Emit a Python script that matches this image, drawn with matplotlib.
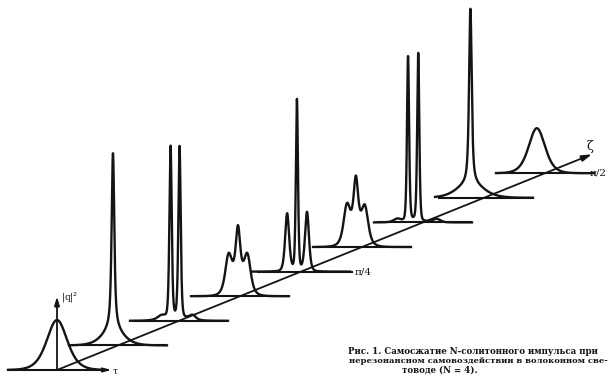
import numpy as np
import matplotlib
matplotlib.use("Agg")
import matplotlib.pyplot as plt

# ---- data ----
# profile index k: zeta = k * pi/16  (k = 0 .. 8)
zeta_index = [0, 1, 2, 3, 4, 5, 6, 7, 8]
zeta_tick_labels = {4: "π/4", 8: "π/2"}
# each profile: list of sech^2 components (tau centre, amplitude |q|^2, width)
prof0 = [(0.0, 16.0, 1.0)]
prof1 = [(-0.37, 49.5, 0.12), (-0.37, 6.0, 0.35), (-0.37, 6.0, 1.0)]
prof2 = [(-0.62, 54.0, 0.11), (0.04, 54.0, 0.11), (-0.3, 2.2, 1.0),
         (-1.3, 1.0, 0.35), (1.0, 1.4, 0.3)]
prof3 = [(-0.15, 14.0, 0.2), (-0.85, 10.0, 0.3), (0.55, 10.0, 0.3),
         (-0.15, 8.0, 0.75)]
prof4 = [(-0.3, 54.0, 0.10), (-1.02, 18.0, 0.19), (0.44, 18.5, 0.19),
         (-0.3, 1.2, 0.9)]
prof5 = [(-0.45, 14.0, 0.2), (-1.12, 10.0, 0.3), (0.22, 9.5, 0.3),
         (-0.45, 8.0, 0.75)]
prof6 = [(-1.1, 52.0, 0.10), (-0.35, 53.0, 0.10), (-0.7, 1.5, 0.8),
         (-1.9, 1.0, 0.35), (1.0, 1.1, 0.35)]
prof7 = [(-1.0, 49.5, 0.12), (-1.0, 5.5, 0.32), (-1.0, 5.5, 1.2)]
prof8 = [(-0.6, 14.4, 0.8)]
profiles = [prof0, prof1, prof2, prof3, prof4, prof5, prof6, prof7, prof8]

caption = ["Рис. 1. Самосжатие N-солитонного импульса при",
           "нерезонансном самовоздействии в волоконном све-",
           "товоде (N = 4)."]

# ---- oblique projection (pixel frame of the figure) ----
W, H = 609, 376
X0, Y0 = 57.0, 370.0      # origin: tau=0 of first profile
DXk, DYk = 61.0, 24.6     # shift per zeta step
SX, SY = 13.6, 3.125      # px per tau unit, px per |q|^2 unit


def proj(k, tau, h):
    return X0 + DXk * k + SX * np.asarray(tau), Y0 - DYk * k - SY * np.asarray(h)


fig = plt.figure(figsize=(W / 100, H / 100), dpi=100)
ax = fig.add_axes([0, 0, 1, 1])
ax.set_xlim(0, W)
ax.set_ylim(H, 0)
ax.axis("off")
ink = "#141414"

tau = np.linspace(-3.6, 3.6, 3000)
for k, comps in zip(zeta_index, profiles):
    h = np.zeros_like(tau)
    for c, a, w in comps:
        h += a / np.cosh((tau - c) / w) ** 2
    if k == 0:
        bl = (-3.7, 3.85)
    elif k == 4:
        bl = (-3.25, 3.8)
    elif k == 8:
        bl = (-3.7, 3.1)
    else:
        bl = (-3.4, 3.6)
    bx, by = proj(k, np.array(bl), np.zeros(2))
    ax.plot(bx, by, color=ink, lw=1.5, solid_capstyle="butt")
    x, y = proj(k, tau, h)
    ax.plot(x, y, color=ink, lw=1.7, solid_joinstyle="round")
    if k in zeta_tick_labels:
        ax.text(bx[1] + 2, by[1], zeta_tick_labels[k],
                fontsize=7.5, family="DejaVu Serif", va="center", ha="left", color=ink)

# zeta axis (diagonal)
zx0, zy0 = proj(0, 0.0, 0.0)
zx1, zy1 = proj(8.77, 0.0, 0.0)
ax.annotate("", xy=(zx1, zy1), xytext=(zx0, zy0),
            arrowprops=dict(arrowstyle="-|>,head_length=0.6,head_width=0.18",
                            color=ink, lw=1.3, shrinkA=0, shrinkB=0))
ax.text(zx1 - 2, zy1 - 8, "ζ", fontsize=9, family="DejaVu Serif", color=ink,
        ha="center", va="center")

# |q|^2 axis and tau axis on first profile
vx0, vy0 = proj(0, 0.0, 0.0)
vx1, vy1 = proj(0, 0.0, 23.5)
ax.annotate("", xy=(vx1, vy1), xytext=(vx0, vy0),
            arrowprops=dict(arrowstyle="-|>,head_length=0.5,head_width=0.15",
                            color=ink, lw=1.3, shrinkA=0, shrinkB=0))
ax.text(vx1 + 4, vy1 + 1, "|q|$^2$", fontsize=6.5, family="DejaVu Serif",
        color=ink, ha="left", va="center")
tx0, ty0 = proj(0, 3.2, 0.0)
tx1, ty1 = proj(0, 3.9, 0.0)
ax.annotate("", xy=(tx1, ty1), xytext=(tx0, ty0),
            arrowprops=dict(arrowstyle="-|>,head_length=0.4,head_width=0.13",
                            color=ink, lw=1.2, shrinkA=0, shrinkB=0))
ax.text(tx1 + 5, ty1 + 1.5, "τ", fontsize=6.5, family="DejaVu Serif", color=ink,
        ha="center", va="center")

# caption
ax.text(348, 351, caption[0], fontsize=6.2, family="DejaVu Serif",
        weight="bold", color=ink, ha="left", va="center")
ax.text(349, 361, caption[1], fontsize=6.0, family="DejaVu Serif",
        weight="bold", color=ink, ha="left", va="center")
ax.text(402, 370, caption[2], fontsize=6.2, family="DejaVu Serif",
        weight="bold", color=ink, ha="left", va="center")

fig.savefig("out.png", dpi=100, facecolor="white")
